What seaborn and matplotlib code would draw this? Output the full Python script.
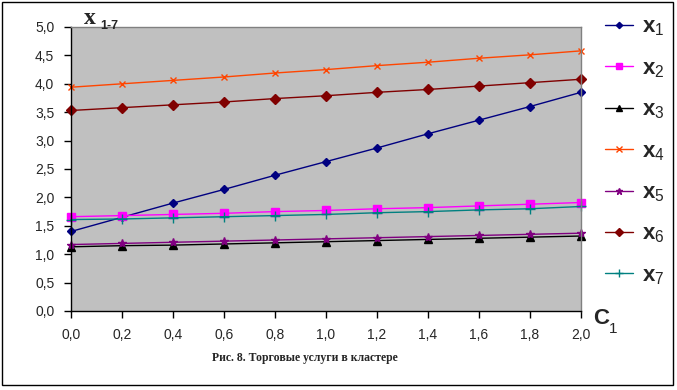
import pandas as pd
import matplotlib.pyplot as plt
import seaborn as sns
from matplotlib.patches import Rectangle

sns.set_style('white')
plt.rcParams['font.family'] = ['Liberation Sans', 'DejaVu Sans']
plt.rcParams['mathtext.fontset'] = 'custom'
plt.rcParams['mathtext.rm'] = 'Liberation Sans'
plt.rcParams['mathtext.it'] = 'Liberation Sans'
plt.rcParams['mathtext.bf'] = 'Liberation Sans:bold'

c1 = [0.0, 0.2, 0.4, 0.6, 0.8, 1.0, 1.2, 1.4, 1.6, 1.8, 2.0]
x1 = [1.40, 1.65, 1.90, 2.14, 2.39, 2.63, 2.87, 3.12, 3.36, 3.60, 3.85]
x2 = [1.66, 1.68, 1.70, 1.72, 1.75, 1.77, 1.80, 1.82, 1.85, 1.88, 1.91]
x3 = [1.13, 1.15, 1.16, 1.18, 1.20, 1.22, 1.24, 1.26, 1.28, 1.30, 1.32]
x4 = [3.94, 4.00, 4.06, 4.12, 4.19, 4.25, 4.32, 4.38, 4.45, 4.51, 4.58]
x5 = [1.17, 1.19, 1.21, 1.23, 1.25, 1.27, 1.29, 1.31, 1.33, 1.35, 1.37]
x6 = [3.53, 3.58, 3.63, 3.68, 3.74, 3.79, 3.85, 3.90, 3.96, 4.02, 4.08]
x7 = [1.61, 1.62, 1.64, 1.66, 1.68, 1.70, 1.73, 1.75, 1.78, 1.80, 1.84]

names = ['x1', 'x2', 'x3', 'x4', 'x5', 'x6', 'x7']
series = [x1, x2, x3, x4, x5, x6, x7]
colors = ['#000080', '#FF00FF', '#000000', '#FF4500', '#800080', '#800000', '#008080']
markers = ['D', 's', '^', 'x', '*', 'D', '+']
msizes = [4, 6, 6, 5, 6, 5, 7]

rows = []
for name, vals in zip(names, series):
    for c, v in zip(c1, vals):
        rows.append({'c1': c, 'value': v, 'series': name})
df = pd.DataFrame(rows)

fig = plt.figure(figsize=(6.77, 3.9), dpi=100)
ax = fig.add_axes([71 / 677, 79 / 390, 510 / 677, 284 / 390])
ax.set_facecolor('#C0C0C0')

for name, col, mk, ms in zip(names, colors, markers, msizes):
    sns.lineplot(data=df[df['series'] == name], x='c1', y='value', color=col,
                 marker=mk, markersize=ms, markeredgecolor=col, markeredgewidth=1,
                 linewidth=1, label=name, ax=ax, clip_on=False, legend=False)

ax.set_xlim(0, 2)
ax.set_ylim(0, 5)
ax.set_xticks(c1)
ax.set_xticklabels([f'{v:.1f}'.replace('.', ',') for v in c1])
ax.set_yticks([i * 0.5 for i in range(11)])
ax.set_yticklabels([f'{i * 0.5:.1f}'.replace('.', ',') for i in range(11)])
ax.tick_params(axis='both', direction='out', length=5, width=1, labelsize=10,
               color='black', bottom=True, left=True, pad=7)
ax.set_xlabel('')
ax.set_ylabel('')
for s in ['left', 'bottom']:
    ax.spines[s].set_color('black')
    ax.spines[s].set_linewidth(1)
for s in ['top', 'right']:
    ax.spines[s].set_color('#808080')
    ax.spines[s].set_linewidth(1)

handles = []
for col, mk, ms in zip(colors, markers, msizes):
    h, = ax.plot([], [], color=col, marker=mk, markersize=ms * 0.8, markeredgecolor=col, linewidth=1)
    handles.append(h)
labels = [rf'$\mathbf{{x}}_{{\mathregular{{{i + 1}}}}}$' for i in range(7)]
fig.legend(handles, labels, loc='upper left', bbox_to_anchor=(596 / 677, 1 - 8 / 390),
           frameon=False, fontsize=16, handlelength=1.25, handletextpad=0.4,
           labelspacing=0.89, borderaxespad=0)

# axis titles
fig.text(84 / 677, 1 - 24 / 390, 'x', family='Liberation Serif', fontweight='bold', fontsize=17)
fig.text(100 / 677, 1 - 29 / 390, '1-7', fontsize=9, fontweight='bold')
fig.text(593 / 677, 1 - 324 / 390, 'C', fontsize=16, fontweight='bold')
fig.text(609 / 677, 1 - 333 / 390, '1', fontsize=11)

fig.text(305 / 677, 1 - 358 / 390, 'Рис. 8. Торговые услуги в кластере',
         family='Liberation Serif', fontweight='bold', fontsize=8.5,
         ha='center', va='center')

fig.patches.append(Rectangle((2 / 677, 5 / 390), 671 / 677, 383 / 390,
                             transform=fig.transFigure, fill=False,
                             edgecolor='black', linewidth=1))

fig.savefig('out.png', dpi=100)
